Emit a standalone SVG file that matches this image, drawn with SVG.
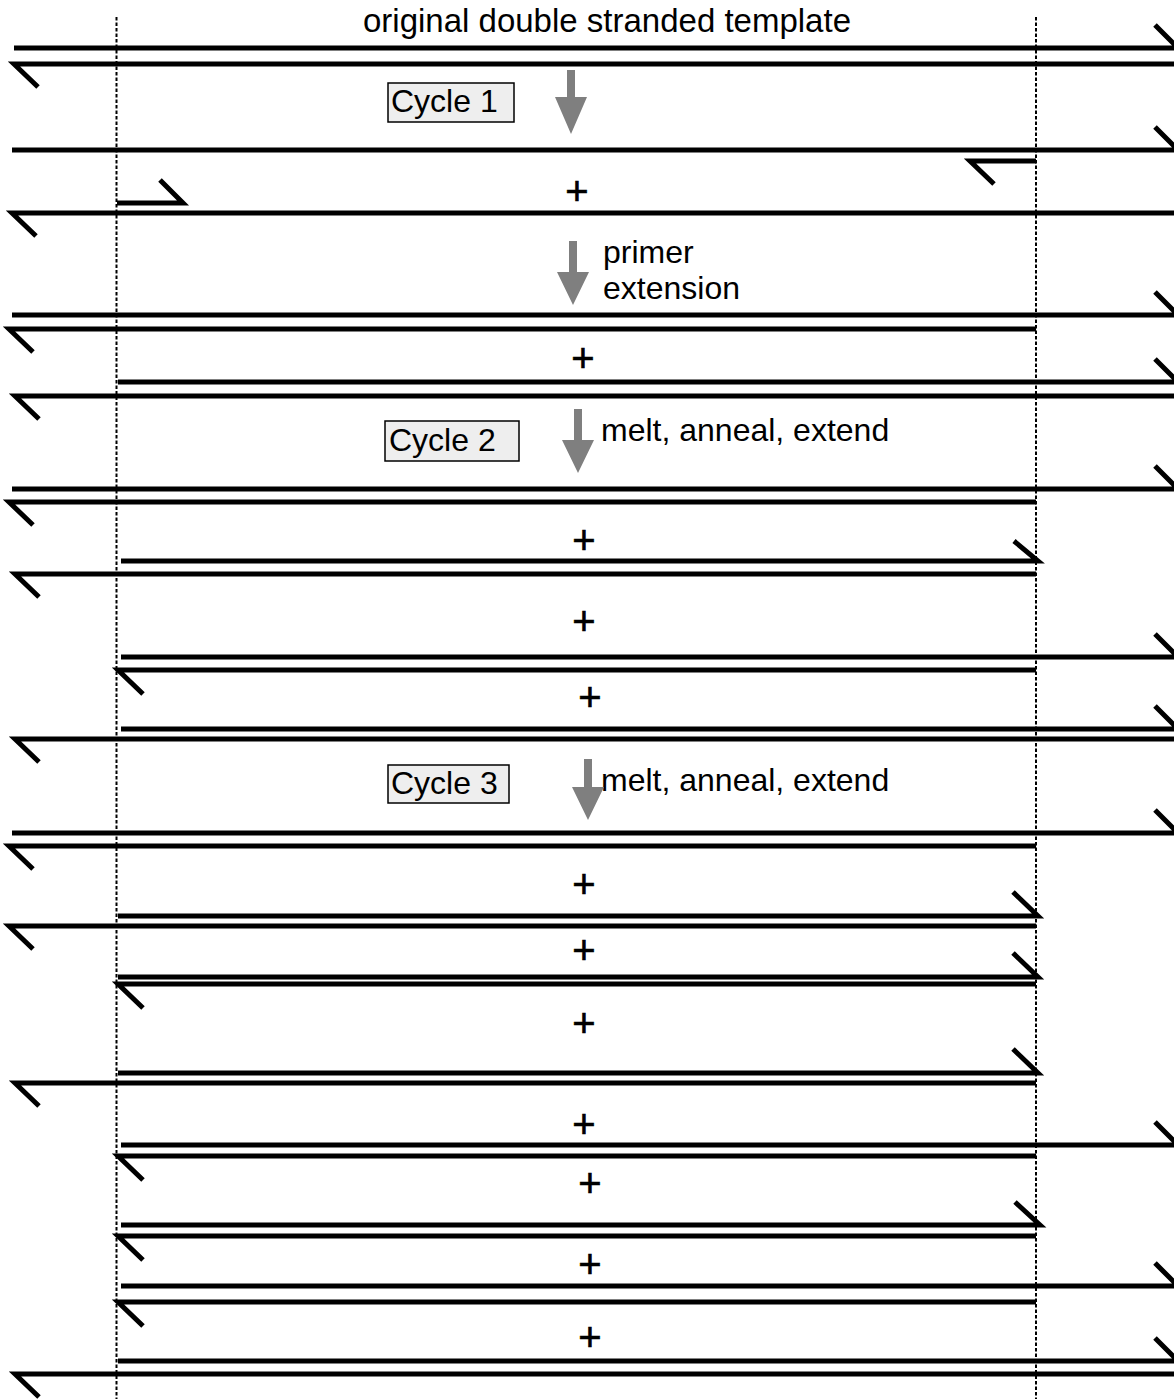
<svg xmlns="http://www.w3.org/2000/svg" width="1174" height="1399" viewBox="0 0 1174 1399">
<style>
.s{fill:none;stroke:#000;stroke-width:5;stroke-linejoin:miter;stroke-linecap:butt}
.d{fill:none;stroke:#000;stroke-width:2;stroke-dasharray:3.5,2}
.g{fill:#7f7f7f;stroke:none}
.t{font-family:"Liberation Sans",Arial,sans-serif;font-size:32px;fill:#000}
.p{font-family:"Liberation Sans",Arial,sans-serif;font-size:40px;fill:#000;text-anchor:middle;stroke:#000;stroke-width:0.6}
.b{fill:#eeeeee;stroke:#000;stroke-width:1.5}
</style>
<rect width="1174" height="1399" fill="#fff"/>
<g id="guides">
<line class="d" x1="116.5" y1="17" x2="116.5" y2="1399"/>
<line class="d" x1="1036" y1="17" x2="1036" y2="1399"/>
</g>
<g id="labels">
<text class="t" x="607" y="32" text-anchor="middle" style="font-size:33px">original double stranded template</text>
<g id="cycle1"><rect class="b" x="388" y="83" width="126" height="39"/><text class="t" x="391" y="112">Cycle 1</text></g>
<g id="cycle2"><rect class="b" x="385" y="421" width="134" height="40"/><text class="t" x="389" y="451">Cycle 2</text></g>
<g id="cycle3"><rect class="b" x="388" y="765" width="121" height="38"/><text class="t" x="391" y="794">Cycle 3</text></g>
<text class="t" x="603" y="263">primer</text>
<text class="t" x="603" y="299">extension</text>
<text class="t" x="601" y="441">melt, anneal, extend</text>
<text class="t" x="601" y="791">melt, anneal, extend</text>
</g>
<g id="plus">
<text class="p" x="577" y="205">+</text>
<text class="p" x="583" y="372">+</text>
<text class="p" x="584" y="554">+</text>
<text class="p" x="584" y="635">+</text>
<text class="p" x="590" y="711">+</text>
<text class="p" x="584" y="898">+</text>
<text class="p" x="584" y="964">+</text>
<text class="p" x="584" y="1037">+</text>
<text class="p" x="584" y="1138">+</text>
<text class="p" x="590" y="1197">+</text>
<text class="p" x="590" y="1278">+</text>
<text class="p" x="590" y="1351">+</text>
</g>
<g id="connectors">
<path class="g" d="M567,70 H575 V97 H587 L571,134 L555,97 H567 Z"/>
<path class="g" d="M569,241 H577 V272 H589 L573,305 L557,272 H569 Z"/>
<path class="g" d="M574,409 H582 V440 H594 L578,473 L562,440 H574 Z"/>
<path class="g" d="M584,759 H592 V787 H604 L588,820 L572,787 H584 Z"/>
</g>
<g id="strands">
<g id="template">
<polyline class="s" points="14,48 1178,48 1155,25"/>
<polyline class="s" points="38,87 14,64 1178,64"/>
</g>
<g id="cycle1-annealed">
<polyline class="s" points="12,150 1178,150 1155,127"/>
<polyline class="s" points="994,184 970,161 1036,161"/>
<polyline class="s" points="117,203 183,203 160,180"/>
<polyline class="s" points="36,236 12,213 1178,213"/>
</g>
<g id="cycle1-extended">
<polyline class="s" points="12,315 1178,315 1155,292"/>
<polyline class="s" points="33,352 9,329 1036,329"/>
<polyline class="s" points="118,382 1178,382 1155,359"/>
<polyline class="s" points="39,419 15,396 1178,396"/>
</g>
<g id="cycle2-products">
<polyline class="s" points="12,489 1178,489 1155,466"/>
<polyline class="s" points="33,525 9,502 1036,502"/>
<polyline class="s" points="121,561 1038,561 1014,541"/>
<polyline class="s" points="39,597 15,574 1036,574"/>
<polyline class="s" points="121,657 1178,657 1155,634"/>
<polyline class="s" points="143,694 118,670 1036,670"/>
<polyline class="s" points="121,729 1178,729 1155,706"/>
<polyline class="s" points="39,762 15,739 1178,739"/>
</g>
<g id="cycle3-products">
<polyline class="s" points="12,833 1178,833 1155,810"/>
<polyline class="s" points="33,869 9,846 1036,846"/>
<polyline class="s" points="118,916 1038,916 1013,892"/>
<polyline class="s" points="33,949 9,926 1036,926"/>
<polyline class="s" points="118,977 1038,977 1013,953"/>
<polyline class="s" points="143,1008 118,984 1036,984"/>
<polyline class="s" points="118,1073 1038,1073 1013,1049"/>
<polyline class="s" points="39,1106 15,1083 1036,1083"/>
<polyline class="s" points="121,1145 1178,1145 1155,1122"/>
<polyline class="s" points="143,1180 118,1156 1036,1156"/>
<polyline class="s" points="121,1225 1040,1225 1015,1202"/>
<polyline class="s" points="143,1260 118,1236 1036,1236"/>
<polyline class="s" points="121,1286 1178,1286 1155,1263"/>
<polyline class="s" points="143,1326 118,1302 1036,1302"/>
<polyline class="s" points="118,1361 1178,1361 1155,1338"/>
<polyline class="s" points="39,1397 15,1374 1178,1374"/>
</g>
</g>
</svg>
